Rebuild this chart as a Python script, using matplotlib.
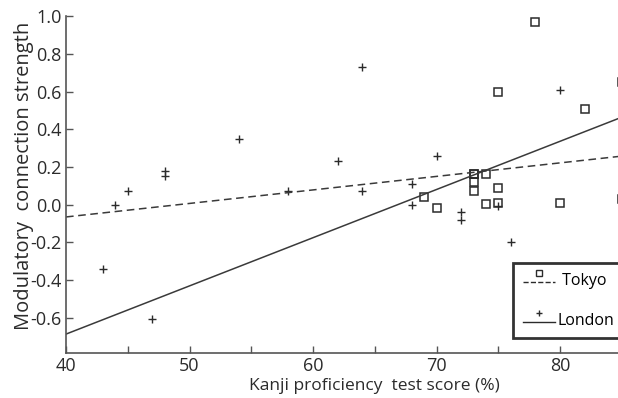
import numpy as np
import matplotlib
matplotlib.use("Agg")
import matplotlib.pyplot as plt
from matplotlib.lines import Line2D
from matplotlib.legend_handler import HandlerBase

# values
tokyo_x = [69, 70, 73, 73, 73, 73, 74, 74, 75, 75, 75, 78, 80, 82, 85, 85]
tokyo_y = [0.04, -0.02, 0.16, 0.12, 0.07, 0.16, 0.16, 0.005, 0.60, 0.09, 0.01, 0.97, 0.01, 0.51, 0.65, 0.03]

london_x = [43, 44, 45, 47, 48, 48, 54, 58, 62, 64, 64, 68, 68, 70, 72, 72, 75, 76, 80]
london_y = [-0.34, 0.0, 0.07, -0.61, 0.18, 0.15, 0.35, 0.07, 0.23, 0.73, 0.07,
            0.11, 0.0, 0.26, -0.04, -0.08, -0.01, -0.20, 0.61]

# fitted lines (slope, intercept) as drawn in the figure
tokyo_fit = (0.00718, -0.353)
london_fit = (0.0256, -1.712)

xticks = [40, 50, 60, 70, 80]
xminor = [45, 55, 65, 75, 85]
yticks = [-0.6, -0.4, -0.2, 0.0, 0.2, 0.4, 0.6, 0.8, 1.0]
ytick_labels = ["-0.6", "-0.4", "-0.2", "0.0", "0.2", "0.4", "0.6", "0.8", "1.0"]
legend_labels = [' Tokyo', 'London']

plt.rcParams['font.family'] = ['Open Sans', 'DejaVu Sans']

INK = '#2b2b2b'
W, H = 618, 398


class StackedHandler(HandlerBase):
    # MATLAB style legend entry: marker sitting above the line sample
    def create_artists(self, legend, orig_handle, xdescent, ydescent,
                       width, height, fontsize, trans):
        x0 = -xdescent
        low = (height - ydescent) / 2 - 2
        high = low + 6.5
        ln = Line2D([x0, x0 + width], [low, low],
                    linestyle=orig_handle.get_linestyle(),
                    color=orig_handle.get_color(), lw=orig_handle.get_linewidth())
        mk = Line2D([x0 + width / 2], [high], linestyle='none',
                    marker=orig_handle.get_marker(),
                    markersize=orig_handle.get_markersize(),
                    markerfacecolor='none', markeredgecolor=orig_handle.get_color(),
                    markeredgewidth=orig_handle.get_markeredgewidth())
        ln.set_transform(trans)
        mk.set_transform(trans)
        return [ln, mk]


fig = plt.figure(figsize=(W / 100, H / 100), dpi=100)
ax = fig.add_axes([66 / W, 1 - 353.3 / H, 617.5 / W, (353.3 - 16.3) / H])

ax.plot(tokyo_x, tokyo_y, linestyle='none', marker='s', markersize=5.2,
        markerfacecolor='none', markeredgecolor=INK, markeredgewidth=1.1, clip_on=False)
ax.plot(london_x, london_y, linestyle='none', marker='+', markersize=5.5,
        color=INK, markeredgewidth=1.0)

xs = np.array([40, 90])
ax.plot(xs, tokyo_fit[0] * xs + tokyo_fit[1], linestyle=(0, (5, 3)), color='#3a3a3a', lw=1.1)
ax.plot(xs, london_fit[0] * xs + london_fit[1], linestyle='-', color='#3a3a3a', lw=1.1)

ax.set_xlim(40, 90)
ax.set_ylim(-0.79, 1.0)
ax.set_xticks(xticks)
ax.set_xticks(xminor, minor=True)
ax.set_yticks(yticks)
ax.set_yticklabels(ytick_labels)
ax.tick_params(axis='both', which='both', direction='in', length=5, width=1,
               color='#555555', labelsize=13, labelcolor=INK)
ax.tick_params(axis='y', pad=3)
ax.tick_params(axis='x', pad=3)

for side in ['top', 'right']:
    ax.spines[side].set_visible(False)
for side in ['left', 'bottom']:
    ax.spines[side].set_color('#555555')
    ax.spines[side].set_linewidth(1.2)

ax.set_xlabel('Kanji proficiency  test score (%)', fontsize=12.5, color=INK, labelpad=2)
ax.set_ylabel('Modulatory  connection strength', fontsize=14.5, color=INK)
ax.yaxis.set_label_coords((24 - 66) / 617.5, (353.3 - 176) / 337, transform=ax.transAxes)
ax.yaxis.label.set_va('center')

proxies = [Line2D([], [], linestyle=(0, (3, 2)), marker='s', color=INK, lw=1, markersize=4.2, markeredgewidth=1),
           Line2D([], [], linestyle='-', marker='+', color=INK, lw=1, markersize=4.5, markeredgewidth=1)]
leg = fig.legend(proxies, legend_labels, loc='upper left',
                 bbox_to_anchor=(513 / W, 1 - 263 / H),
                 handler_map={Line2D: StackedHandler()},
                 frameon=True, fancybox=False, fontsize=11.5,
                 handlelength=2.0, handletextpad=0.2, labelspacing=1.5,
                 borderpad=0.6, borderaxespad=0)
leg.get_frame().set_edgecolor('black')
leg.get_frame().set_linewidth(2)

fig.savefig('out.png', dpi=100)
